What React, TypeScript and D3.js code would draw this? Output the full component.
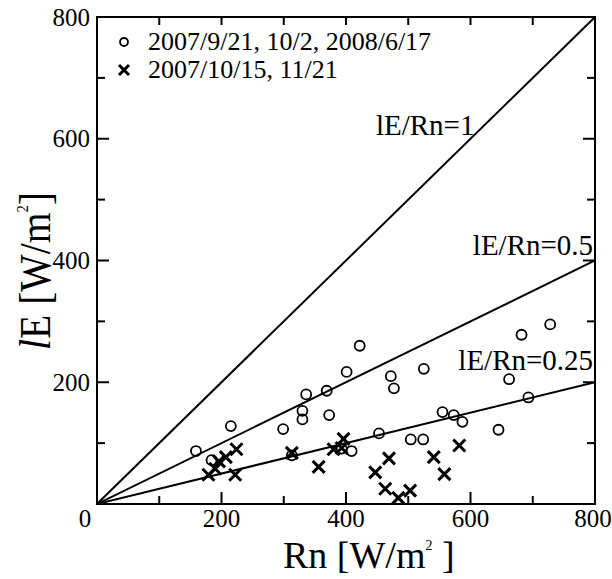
import React from 'react'
import * as d3 from 'd3'

// axis ticks
const majorTicks = [0, 200, 400, 600, 800]
const minorTicks = [100, 300, 500, 700]

// reference lines lE/Rn = k
const ratios = [1, 0.5, 0.25]
const ratioLabels = ['lE/Rn=1', 'lE/Rn=0.5', 'lE/Rn=0.25']

// 2007/9/21, 10/2, 2008/6/17 (open circles)
const circleRn = [159, 184, 215, 299, 313, 330, 330, 336, 369, 373, 393, 401, 409, 422, 453, 472, 477, 504, 524, 525, 555, 573, 587, 645, 662, 682, 693, 728]
const circleLE = [87, 72, 128, 123, 80, 153, 139, 180, 186, 146, 91, 217, 87, 260, 116, 210, 190, 106, 106, 222, 151, 146, 135, 122, 205, 278, 175, 295]

// 2007/10/15, 11/21 (crosses)
const crossRn = [179, 190, 196, 207, 222, 224, 313, 356, 380, 393, 396, 447, 469, 463, 484, 503, 541, 558, 582]
const crossLE = [48, 58, 70, 77, 48, 90, 84, 61, 90, 92, 107, 52, 75, 25, 10, 22, 77, 49, 96]

const legendLabels = ['2007/9/21, 10/2, 2008/6/17', '2007/10/15, 11/21']

const font = 'Liberation Serif, DejaVu Serif, serif'

function Cross({ cx, cy, s, w }) {
  return (
    <path
      d={`M${cx - s},${cy - s}L${cx + s},${cy + s}M${cx - s},${cy + s}L${cx + s},${cy - s}`}
      stroke="#000"
      strokeWidth={w}
      fill="none"
    />
  )
}

export default function App() {
  const left = 97, right = 595, top = 17, bottom = 504
  const x = d3.scaleLinear().domain([0, 800]).range([left, right])
  const y = d3.scaleLinear().domain([0, 800]).range([bottom, top])

  const line = d3.line().x(d => x(d[0])).y(d => y(d[1]))

  // label anchors in data units
  const labelPos = [
    { x: 448, y: 606, anchor: 'start' },
    { x: 797, y: 409, anchor: 'end' },
    { x: 797, y: 220, anchor: 'end' },
  ]

  return (
    <svg width={612} height={579} style={{ position: 'absolute', left: 0, top: 0, background: '#fff', fontFamily: font }}>
      <defs>
        <clipPath id="plot">
          <rect x={left} y={top} width={right - left} height={bottom - top} />
        </clipPath>
      </defs>

      {/* ratio lines */}
      <g clipPath="url(#plot)">
        {ratios.map(k => (
          <path key={k} d={line([[0, 0], [800, 800 * k]])} stroke="#000" strokeWidth={2} fill="none" />
        ))}
      </g>
      {ratioLabels.map((t, i) => (
        <text key={t} x={x(labelPos[i].x)} y={y(labelPos[i].y)} fontSize={29} textAnchor={labelPos[i].anchor}>{t}</text>
      ))}

      {/* data */}
      {circleRn.map((v, i) => (
        <circle key={'c' + i} cx={x(v)} cy={y(circleLE[i])} r={5} fill="none" stroke="#000" strokeWidth={1.8} />
      ))}
      {crossRn.map((v, i) => (
        <Cross key={'x' + i} cx={x(v)} cy={y(crossLE[i])} s={6} w={3} />
      ))}

      {/* frame */}
      <rect x={left} y={top} width={right - left} height={bottom - top} fill="none" stroke="#000" strokeWidth={2} />

      {/* ticks */}
      {majorTicks.concat(minorTicks).map(v => {
        const major = majorTicks.includes(v)
        const len = major ? 12 : 8
        return (
          <g key={'t' + v} stroke="#000" strokeWidth={2}>
            <line x1={x(v)} x2={x(v)} y1={bottom} y2={bottom - len} />
            <line x1={x(v)} x2={x(v)} y1={top} y2={top + 8} />
            <line x1={left} x2={left + len} y1={y(v)} y2={y(v)} />
            <line x1={right} x2={right - len} y1={y(v)} y2={y(v)} />
          </g>
        )
      })}

      {/* tick labels */}
      {majorTicks.filter(v => v > 0).map(v => (
        <text key={'yl' + v} x={left - 7} y={y(v) + 8.5} fontSize={25} textAnchor="end">{v}</text>
      ))}
      {majorTicks.map(v => (
        <text key={'xl' + v} x={v === 0 ? x(v) - 12 : v === 800 ? x(v) - 2 : x(v)} y={bottom + 23} fontSize={25} textAnchor="middle">{v}</text>
      ))}

      {/* axis titles */}
      <text x={283} y={568} fontSize={38}>
        Rn [W/m<tspan fontSize={14} dy={-18}>2</tspan><tspan dy={18}> ]</tspan>
      </text>
      <text transform="translate(50,271) rotate(-90) scale(0.9,1)" fontSize={44} textAnchor="middle">
        <tspan fontStyle="italic">l</tspan>E [W/m<tspan fontSize={16} dy={-22}>2</tspan><tspan dy={22}>]</tspan>
      </text>

      {/* legend */}
      <circle cx={124} cy={42} r={4} fill="none" stroke="#000" strokeWidth={1.8} />
      <text x={148} y={50} fontSize={26}>{legendLabels[0]}</text>
      <Cross cx={124} cy={70} s={5} w={3} />
      <text x={148} y={78} fontSize={26}>{legendLabels[1]}</text>
    </svg>
  )
}
